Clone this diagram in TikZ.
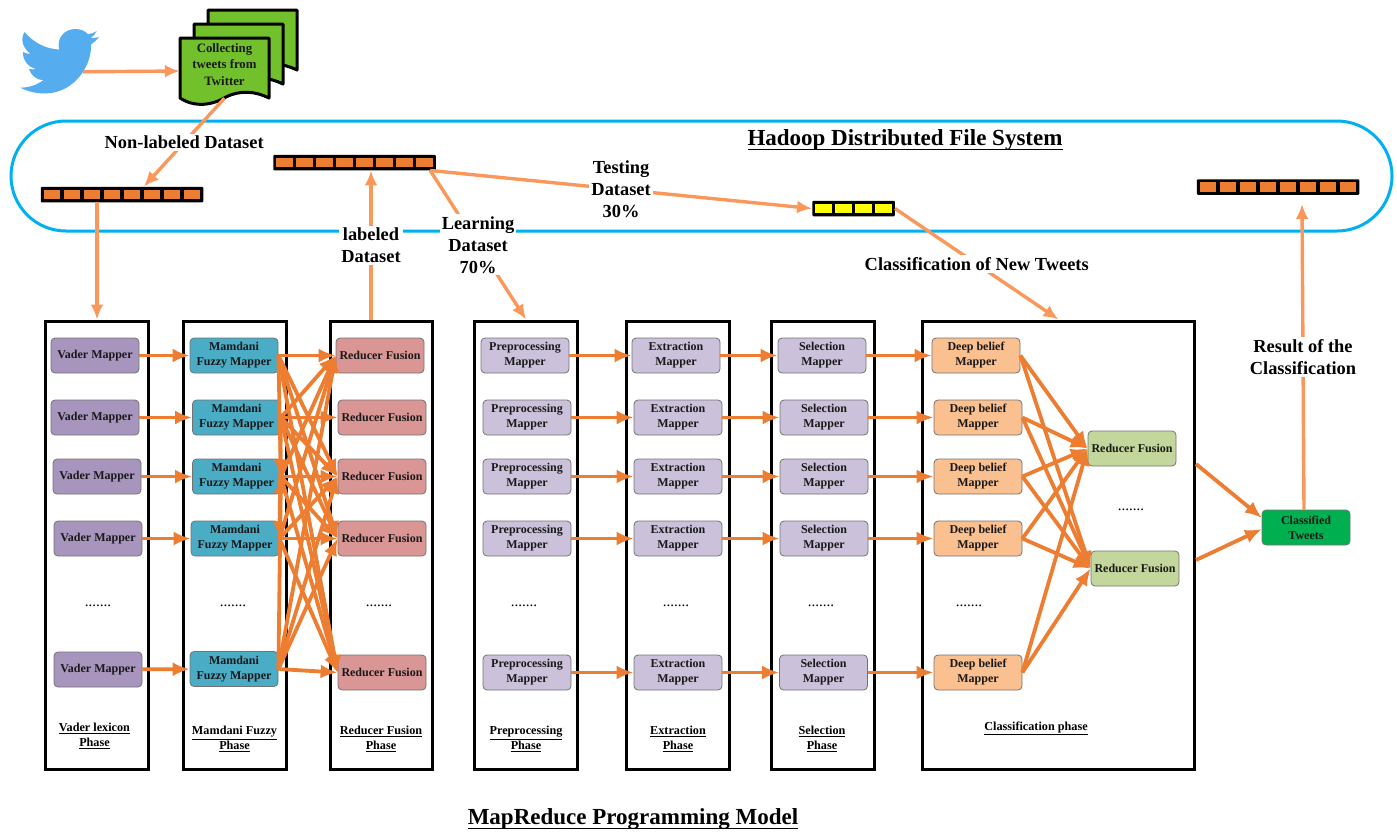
\documentclass[tikz,border=0pt]{standalone}
\usepackage{fontspec}
\setmainfont{Liberation Serif}
\usepackage{tikz}
\usetikzlibrary{shapes,arrows.meta}
\definecolor{hdfsblue}{HTML}{00B0F0}
\definecolor{topline}{HTML}{F9985A}
\definecolor{flowline}{HTML}{ED7D31}
\definecolor{cellorange}{HTML}{ED7D31}
\definecolor{cellyellow}{HTML}{FFFF00}
\definecolor{docgreen}{HTML}{72C02C}
\definecolor{birdblue}{HTML}{55ACEE}
\definecolor{vadercol}{HTML}{A795BE}
\definecolor{mamdanicol}{HTML}{4BACC6}
\definecolor{reducercol}{HTML}{D99694}
\definecolor{mappercol}{HTML}{CCC1DA}
\definecolor{deepcol}{HTML}{FAC090}
\definecolor{fusioncol}{HTML}{C3D69B}
\definecolor{classcol}{HTML}{00B050}
\tikzstyle{block} = [rectangle, draw=black!55, line width=0.8pt, text centered, rounded corners=4pt,
    minimum width=88pt, minimum height=35pt, inner sep=0pt, align=center, text=black!90,
    font=\bfseries\fontsize{12}{15}\selectfont]
\tikzstyle{panel} = [rectangle, draw, line width=3pt, minimum height=448pt, minimum width=103pt]
\tikzstyle{phase} = [align=center, font=\bfseries\fontsize{12.2}{15}\selectfont]
\tikzstyle{dots} = [font=\fontsize{15}{15}\selectfont]
\tikzstyle{title} = [anchor=base, inner sep=0pt, font=\bfseries\fontsize{23}{27}\selectfont]
\tikzstyle{storage} = [rectangle, fill=black, rounded corners=1pt, inner sep=3pt, font=\fontsize{1}{1}\selectfont]
\tikzstyle{line} = [draw, -{Latex[length=17pt,width=14pt]}, line width=3.8pt, color=flowline]
\newcommand{\titleline}[1]{\underline{\smash{#1}\rule[-3pt]{0pt}{0pt}}}
\newcommand{\cellrow}[1]{\textcolor{#1}{\rule{16.5pt}{9.5pt}}}
\newcommand{\orangebar}{\cellrow{cellorange}\hspace{3.5pt}\cellrow{cellorange}\hspace{3.5pt}\cellrow{cellorange}\hspace{3.5pt}\cellrow{cellorange}\hspace{3.5pt}\cellrow{cellorange}\hspace{3.5pt}\cellrow{cellorange}\hspace{3.5pt}\cellrow{cellorange}\hspace{3.5pt}\cellrow{cellorange}}
\newcommand{\yellowbar}{\cellrow{cellyellow}\hspace{3.5pt}\cellrow{cellyellow}\hspace{3.5pt}\cellrow{cellyellow}\hspace{3.5pt}\cellrow{cellyellow}}
\newcommand{\tweetdoc}[2]{\draw [xshift=#1pt, yshift=#2pt, draw=black, fill=docgreen, line width=3pt, line join=round]
    (180,38) -- (269,38) -- (269,98) .. controls (255,91) and (240,90) .. (226,97) .. controls (213,105) and (195,108) .. (180,98) -- cycle;}
\begin{document}
\begin{tikzpicture}[x=1pt, y=-1pt, toplabel/.style={line, color=topline, line width=3.4pt, -{Latex[length=15pt,width=13pt]}, every node/.style={fill=white, text=black, align=center, inner sep=2pt, font=\bfseries\fontsize{18.4}{22}\selectfont}}]
\useasboundingbox (0,0) rectangle (1397,831);

% hdfs
\node [draw=hdfsblue, line width=3pt, rectangle, rounded corners=55pt, minimum width=1381pt, minimum height=110pt] at (701.5,176) (hdfs) {};
\node [title] at (905,145) (hdfstitle) {\titleline{Hadoop Distributed File System}};
\node [title] at (633,824) (mrtitle) {\titleline{MapReduce Programming Model}};

% twitter
\fill [birdblue] (75,29) .. controls (81,29) and (85,31) .. (87.7,34) .. controls (91,34) and (94,33) .. (96.7,31)
    .. controls (95.5,34) and (93,36.5) .. (90.5,38) .. controls (93.5,38) and (96.5,38) .. (99,37)
    .. controls (97,40) and (94,42.5) .. (91,44.5) .. controls (92,65) and (75,93) .. (45,93.5)
    .. controls (35,93.5) and (27,91) .. (20,87.5) .. controls (28,88) and (37,85) .. (43.5,80)
    .. controls (36,80) and (31,75) .. (29,69) .. controls (31.5,69.5) and (34,69.5) .. (36,69)
    .. controls (28,67) and (22.5,60) .. (23,52) .. controls (25,53) and (28,54) .. (30.5,54)
    .. controls (23,48) and (20,40) .. (24.5,32) .. controls (33,42) and (45,49) .. (59.3,49.5)
    .. controls (56,38) and (65,29) .. (75,29) -- cycle;
\node [minimum width=46pt, minimum height=30pt, inner sep=0pt] at (60,72) (bird) {};

% tweets
\tweetdoc{28}{28}
\tweetdoc{14}{14}
\tweetdoc{0}{0}
\node [minimum width=89pt, minimum height=54pt, inner sep=0pt] at (224.5,71) (doc) {};
\node [align=center, text=black!90, font=\bfseries\fontsize{12.8}{16.5}\selectfont] at (224.5,64.5) (doctext) {Collecting\\tweets from\\Twitter};

% storage
\node [storage] at (122,194.5) (bar1) {\orangebar};
\node [storage] at (354.5,162.5) (bar2) {\orangebar};
\node [storage] at (853.5,208.5) (bar3) {\yellowbar};
\node [storage] at (1278,187) (bar4) {\orangebar};

% panels
\node [panel] at (97,545) (vaderpanel) {};
\node [panel] at (235,545) (mamdanipanel) {};
\node [panel, minimum width=102pt] at (381.5,545) (reducerpanel) {};
\node [panel] at (526,545) (prepanel) {};
\node [panel] at (678,545) (extpanel) {};
\node [panel] at (823,545) (selpanel) {};
\node [panel, minimum width=272pt] at (1058.5,545) (classpanel) {};

% vader
\node [block, fill=vadercol] at (95,355.5) (vader1) {Vader Mapper};
\node [block, fill=vadercol] at (95,417.5) (vader2) {Vader Mapper};
\node [block, fill=vadercol] at (97,476.5) (vader3) {Vader Mapper};
\node [block, fill=vadercol] at (98,538.5) (vader4) {Vader Mapper};
\node [block, fill=vadercol] at (98,669.5) (vader5) {Vader Mapper};
\node [dots] at (98,606) (vaderdots) {.......};
\node [phase] at (94.5,736) (vaderlabel) {\underline{Vader lexicon}\\\underline{Phase}};

% mamdani
\node [block, fill=mamdanicol] at (234,355.5) (mam1) {Mamdani\\Fuzzy Mapper};
\node [block, fill=mamdanicol] at (236.5,417.5) (mam2) {Mamdani\\Fuzzy Mapper};
\node [block, fill=mamdanicol] at (236.5,476.5) (mam3) {Mamdani\\Fuzzy Mapper};
\node [block, fill=mamdanicol] at (235,538.5) (mam4) {Mamdani\\Fuzzy Mapper};
\node [block, fill=mamdanicol] at (234,669) (mam5) {Mamdani\\Fuzzy Mapper};
\node [dots] at (233,606) (mamdots) {.......};
\node [phase] at (234.5,739) (mamlabel) {\underline{Mamdani Fuzzy}\\\underline{Phase}};

% reducer
\node [block, fill=reducercol] at (380,355.5) (red1) {Reducer Fusion};
\node [block, fill=reducercol] at (382,417.5) (red2) {Reducer Fusion};
\node [block, fill=reducercol] at (382,476.5) (red3) {Reducer Fusion};
\node [block, fill=reducercol] at (382,538.5) (red4) {Reducer Fusion};
\node [block, fill=reducercol] at (382,672.5) (red5) {Reducer Fusion};
\node [dots] at (379,606) (reddots) {.......};
\node [phase] at (381,739) (redlabel) {\underline{Reducer Fusion}\\\underline{Phase}};

% preprocessing
\node [block, fill=mappercol] at (525,355.5) (pre1) {Preprocessing\\Mapper};
\node [block, fill=mappercol] at (527,417.5) (pre2) {Preprocessing\\Mapper};
\node [block, fill=mappercol] at (527,476.5) (pre3) {Preprocessing\\Mapper};
\node [block, fill=mappercol] at (527,538.5) (pre4) {Preprocessing\\Mapper};
\node [block, fill=mappercol] at (527,672.5) (pre5) {Preprocessing\\Mapper};
\node [dots] at (524,606) (predots) {.......};
\node [phase] at (526,739) (prelabel) {\underline{Preprocessing}\\\underline{Phase}};

% extraction
\node [block, fill=mappercol] at (676,355.5) (ext1) {Extraction\\Mapper};
\node [block, fill=mappercol] at (678,417.5) (ext2) {Extraction\\Mapper};
\node [block, fill=mappercol] at (678,476.5) (ext3) {Extraction\\Mapper};
\node [block, fill=mappercol] at (678,538.5) (ext4) {Extraction\\Mapper};
\node [block, fill=mappercol] at (678,672.5) (ext5) {Extraction\\Mapper};
\node [dots] at (676,606) (extdots) {.......};
\node [phase] at (678,739) (extlabel) {\underline{Extraction}\\\underline{Phase}};

% selection
\node [block, fill=mappercol] at (822,355.5) (sel1) {Selection\\Mapper};
\node [block, fill=mappercol] at (824,417.5) (sel2) {Selection\\Mapper};
\node [block, fill=mappercol] at (824,476.5) (sel3) {Selection\\Mapper};
\node [block, fill=mappercol] at (824,538.5) (sel4) {Selection\\Mapper};
\node [block, fill=mappercol] at (823.5,672.5) (sel5) {Selection\\Mapper};
\node [dots] at (821,606) (seldots) {.......};
\node [phase] at (822,739) (sellabel) {\underline{Selection}\\\underline{Phase}};

% classification
\node [block, fill=deepcol] at (976,355.5) (deep1) {Deep belief\\Mapper};
\node [block, fill=deepcol] at (978,417.5) (deep2) {Deep belief\\Mapper};
\node [block, fill=deepcol] at (978,476.5) (deep3) {Deep belief\\Mapper};
\node [block, fill=deepcol] at (978,538.5) (deep4) {Deep belief\\Mapper};
\node [block, fill=deepcol] at (978,672.5) (deep5) {Deep belief\\Mapper};
\node [dots] at (969,606) (deepdots) {.......};
\node [block, fill=fusioncol] at (1132,448.5) (fusion1) {Reducer Fusion};
\node [block, fill=fusioncol] at (1135,568.5) (fusion2) {Reducer Fusion};
\node [dots] at (1131,510) (fusiondots) {.......};
\node [phase] at (1036,728.5) (classlabel) {\underline{Classification phase}};
\node [block, fill=classcol] at (1306,527.5) (tweets) {Classified\\Tweets};

\coordinate (labeledout) at (371,320);
\coordinate (fusionout1) at (1196,464);
\coordinate (fusionout2) at (1196,560);
\coordinate (tweetsin1) at (1262,518);
\coordinate (tweetsin2) at (1262,529);
\coordinate (tweetsout) at (1304,510);
\coordinate (resultin) at (1302,204);

% top connectors
\draw [toplabel] (bird) -- (doc.west);
\draw [toplabel] (doc.south) -- node {Non-labeled Dataset} (bar1.20);
\draw [toplabel] (bar1.south -| vaderpanel.north) -- (vaderpanel.north);
\draw [toplabel] (labeledout) -- node {labeled\\Dataset} (bar2.south -| labeledout);
\draw [toplabel] (bar2.-6) -- node {Learning\\Dataset\\70\%} (prepanel.north);
\draw [toplabel] (bar2.-6) -- node {Testing\\Dataset\\30\%} (bar3.west);
\draw [toplabel] (bar3.east) -- node {Classification of New Tweets} (classpanel.north);
\draw [toplabel] (tweetsout) -- node {Result of the\\Classification} (resultin);

% mapper connectors
\draw [line] (vader1) -- (mam1);
\draw [line] (vader2) -- (mam2);
\draw [line] (vader3) -- (mam3);
\draw [line] (vader4) -- (mam4);
\draw [line] (vader5) -- (mam5);

\draw [line] (mam1.east) -- (mam3.east);
\draw [line] (mam2.east) -- (mam4.east);
\draw [line] (mam5.east) -- (mam3.east);
\draw [line] (mam1.east) -- (red1.west);
\draw [line] (mam1.east) -- (red3.west);
\draw [line] (mam1.east) -- (red4.west);
\draw [line] (mam1.east) -- (red5.west);
\draw [line] (mam2.east) -- (red1.west);
\draw [line] (mam2.east) -- (red2.west);
\draw [line] (mam2.east) -- (red3.west);
\draw [line] (mam2.east) -- (red4.west);
\draw [line] (mam2.east) -- (red5.west);
\draw [line] (mam3.east) -- (red1.west);
\draw [line] (mam3.east) -- (red3.west);
\draw [line] (mam3.east) -- (red4.west);
\draw [line] (mam3.east) -- (red5.west);
\draw [line] (mam4.east) -- (red1.west);
\draw [line] (mam4.east) -- (red3.west);
\draw [line] (mam4.east) -- (red4.west);
\draw [line] (mam4.east) -- (red5.west);
\draw [line] (mam5.east) -- (red1.west);
\draw [line] (mam5.east) -- (red3.west);
\draw [line] (mam5.east) -- (red4.west);
\draw [line] (mam5.east) -- (red5.west);

\draw [line] (pre1) -- (ext1);
\draw [line] (pre2) -- (ext2);
\draw [line] (pre3) -- (ext3);
\draw [line] (pre4) -- (ext4);
\draw [line] (pre5) -- (ext5);
\draw [line] (ext1) -- (sel1);
\draw [line] (ext2) -- (sel2);
\draw [line] (ext3) -- (sel3);
\draw [line] (ext4) -- (sel4);
\draw [line] (ext5) -- (sel5);
\draw [line] (sel1) -- (deep1);
\draw [line] (sel2) -- (deep2);
\draw [line] (sel3) -- (deep3);
\draw [line] (sel4) -- (deep4);
\draw [line] (sel5) -- (deep5);

\draw [line] (deep1.east) -- (fusion1.west);
\draw [line] (deep1.east) -- (fusion2.west);
\draw [line] (deep2.east) -- (fusion1.west);
\draw [line] (deep2.east) -- (fusion2.west);
\draw [line] (deep3.east) -- (fusion1.west);
\draw [line] (deep3.east) -- (fusion2.west);
\draw [line] (deep4.east) -- (fusion1.west);
\draw [line] (deep4.east) -- (fusion2.west);
\draw [line] (deep5.east) -- (fusion1.west);
\draw [line] (deep5.east) -- (fusion2.west);

\draw [line] (fusionout1) -- (tweetsin1);
\draw [line] (fusionout2) -- (tweetsin2);
\end{tikzpicture}
\end{document}
